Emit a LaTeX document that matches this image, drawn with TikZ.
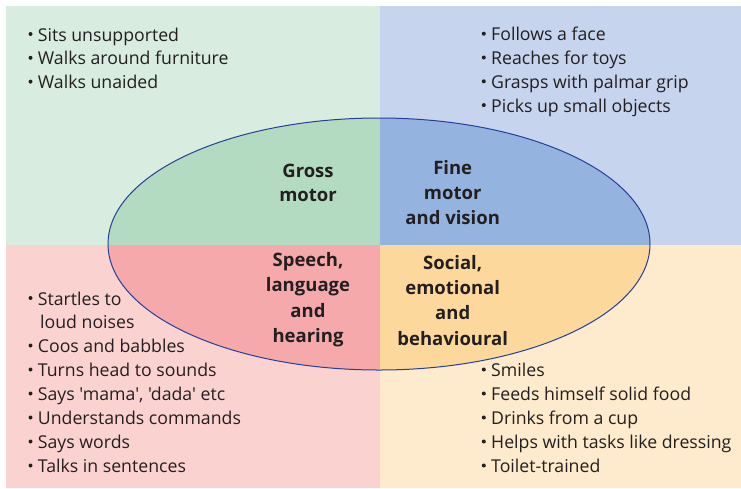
\documentclass[tikz,border=0pt]{standalone}
\usepackage{fontspec}
\newfontfamily\dgfont{Open Sans}
\definecolor{cgout}{HTML}{D8ECDF}
\definecolor{cgin}{HTML}{B3DBC2}
\definecolor{cbout}{HTML}{C6D4EE}
\definecolor{cbin}{HTML}{94B4DF}
\definecolor{cpout}{HTML}{FAD3D1}
\definecolor{cpin}{HTML}{F5A9AA}
\definecolor{coout}{HTML}{FEEACC}
\definecolor{coin}{HTML}{FDD89D}
\definecolor{cedge}{HTML}{23409A}
\definecolor{cink}{HTML}{231F20}
\begin{document}
\begin{tikzpicture}[x=1pt,y=-1pt,
  txt/.style={anchor=base west, inner sep=0pt, text=cink, font=\dgfont\fontsize{17.7}{20}\selectfont},
  lab/.style={anchor=base, inner sep=0pt, text=cink, font=\dgfont\bfseries\fontsize{18.5}{22}\selectfont},
  bul/.style={fill=cink}]
\useasboundingbox (0,0) rectangle (741,488);
% quadrants
\fill[cgout] (6,6) rectangle (380,245);
\fill[cbout] (380,6) rectangle (741,245);
\fill[cpout] (6,245) rectangle (380,488);
\fill[coout] (380,245) rectangle (741,488);
\begin{scope}
  \clip (379,244) ellipse [x radius=271pt, y radius=126pt];
  \fill[cgin] (100,100) rectangle (380,245);
  \fill[cbin] (380,100) rectangle (660,245);
  \fill[cpin] (100,245) rectangle (380,380);
  \fill[coin] (380,245) rectangle (660,380);
\end{scope}
\draw[cedge, line width=1pt] (379,244) ellipse [x radius=271pt, y radius=126pt];
% top-left list
\foreach \t [count=\i] in {Sits unsupported, Walks around furniture, Walks unaided}{
  \node[txt] (tl\i) at (37.7,{41+23.8*(\i-1)}) {\t};
  \fill[bul] ([xshift=-7.2pt,yshift=7pt]tl\i.base west) circle (2pt);
}
% top-right list
\foreach \t [count=\i] in {Follows a face, Reaches for toys, Grasps with palmar grip, Picks up small objects}{
  \node[txt] (tr\i) at (491,{40.7+23.8*(\i-1)}) {\t};
  \fill[bul] ([xshift=-7.2pt,yshift=7pt]tr\i.base west) circle (2pt);
}
% bottom-left list
\node[txt] (bl0) at (37.7,305) {Startles to};
\fill[bul] ([xshift=-7.2pt,yshift=7pt]bl0.base west) circle (2pt);
\node[txt] (bl0b) at (40,328.5) {loud noises};
\foreach \t [count=\i] in {Coos and babbles, Turns head to sounds, {Says 'mama', 'dada' etc}, Understands commands, Says words, Talks in sentences}{
  \node[txt] (bl\i) at (37.7,{352.5+24*(\i-1)}) {\t};
  \fill[bul] ([xshift=-7.2pt,yshift=7pt]bl\i.base west) circle (2pt);
}
% bottom-right list
\foreach \t [count=\i] in {Smiles, Feeds himself solid food, Drinks from a cup, Helps with tasks like dressing, Toilet-trained}{
  \node[txt] (br\i) at (491,{376.5+24*(\i-1)}) {\t};
  \fill[bul] ([xshift=-7.2pt,yshift=7pt]br\i.base west) circle (2pt);
}
% labels
\node[lab] (gm1) at (308,177.7) {Gross};
\node[lab] (gm2) at (308,201.7) {motor};
\node[lab] (fm1) at (452.7,174) {Fine};
\node[lab] (fm2) at (452.7,199.5) {motor};
\node[lab] (fm3) at (452.7,224.5) {and vision};
\node[lab] (sl1) at (308,266.7) {Speech,};
\node[lab] (sl2) at (308,291.9) {language};
\node[lab] (sl3) at (308,317.2) {and};
\node[lab] (sl4) at (308,342.6) {hearing};
\node[lab] (se1) at (452.7,269.3) {Social,};
\node[lab] (se2) at (452.7,294.5) {emotional};
\node[lab] (se3) at (452.7,319.8) {and};
\node[lab] (se4) at (452.7,345) {behavioural};
\end{tikzpicture}
\end{document}
